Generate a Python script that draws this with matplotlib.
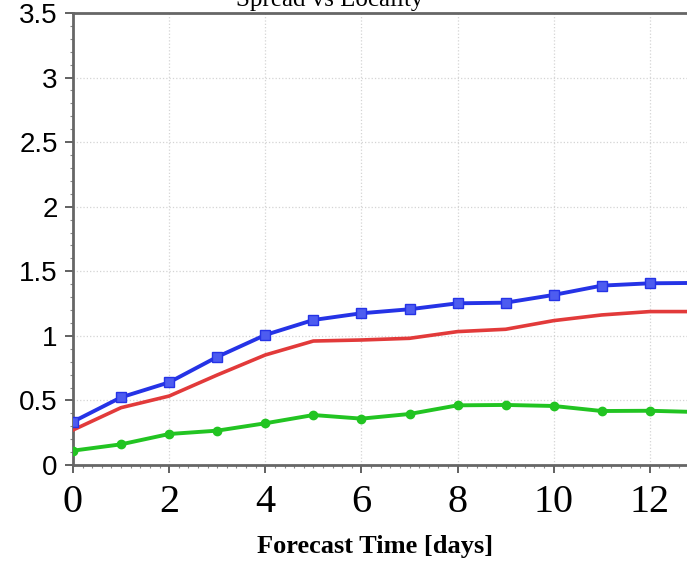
import numpy as np
import matplotlib.pyplot as plt
from matplotlib.ticker import MultipleLocator, FormatStrFormatter

days = [0, 1, 2, 3, 4, 5, 6, 7, 8, 9, 10, 11, 12, 13]
spread_blue = [0.335, 0.524, 0.64, 0.837, 1.007, 1.123, 1.175, 1.206, 1.252, 1.257, 1.317, 1.389, 1.407, 1.41]
error_red = [0.271, 0.444, 0.534, 0.697, 0.852, 0.96, 0.968, 0.981, 1.033, 1.051, 1.118, 1.162, 1.188, 1.188]
diff_green = [0.111, 0.16, 0.24, 0.266, 0.323, 0.387, 0.359, 0.395, 0.462, 0.465, 0.457, 0.418, 0.42, 0.41]
xtick_vals = [0, 2, 4, 6, 8, 10, 12]

fig = plt.figure(figsize=(6.87, 5.62), dpi=100)
# axes run past the right edge, the picture is cropped there
ax = fig.add_axes([73 / 687, 1 - 465 / 562, 673 / 687, 452 / 562])

ax.plot(days, error_red, color='#e23a3a', linewidth=2.6, zorder=3)
ax.plot(days, spread_blue, color='#2533e6', linewidth=2.8, marker='s', markersize=7,
        markerfacecolor='#4d5cf0', markeredgecolor='#2533e6', zorder=4)
ax.plot(days, diff_green, color='#22c422', linewidth=2.8, marker='o', markersize=6,
        markerfacecolor='#22c422', zorder=4)

ax.set_xlim(0, 14)
ax.set_ylim(0, 3.5)
ax.set_xticks(xtick_vals)
ax.xaxis.set_minor_locator(MultipleLocator(0.2))
ax.yaxis.set_major_locator(MultipleLocator(0.5))
ax.yaxis.set_minor_locator(MultipleLocator(0.1))
ax.yaxis.set_major_formatter(FormatStrFormatter('%g'))

ax.grid(True, which='major', color='#d4d4d4', linestyle=':', linewidth=0.9)
for side in ['left', 'bottom', 'top', 'right']:
    ax.spines[side].set_color('#666666')
    ax.spines[side].set_linewidth(2.0)

ax.tick_params(axis='both', which='major', direction='out', length=6, width=1.3, color='#555555')
ax.tick_params(axis='both', which='minor', direction='out', length=2, width=0.8, color='#888888')
ax.tick_params(axis='x', which='major', labelsize=29, pad=8)
ax.tick_params(axis='y', which='major', labelsize=20, pad=5)
for lbl in ax.get_xticklabels():
    lbl.set_fontfamily('Liberation Serif')
for lbl in ax.get_yticklabels():
    lbl.set_fontfamily('Liberation Sans')

fig.text(375 / 687, 1 - 546 / 562, 'Forecast Time [days]', ha='center', va='center',
         fontsize=19, fontweight='bold', family='Liberation Serif')
fig.text(330 / 687, 1 - 6 / 562, 'Spread vs Locality', ha='center', va='baseline',
         fontsize=18, family='Liberation Serif')

fig.savefig('out.png', dpi=100)
